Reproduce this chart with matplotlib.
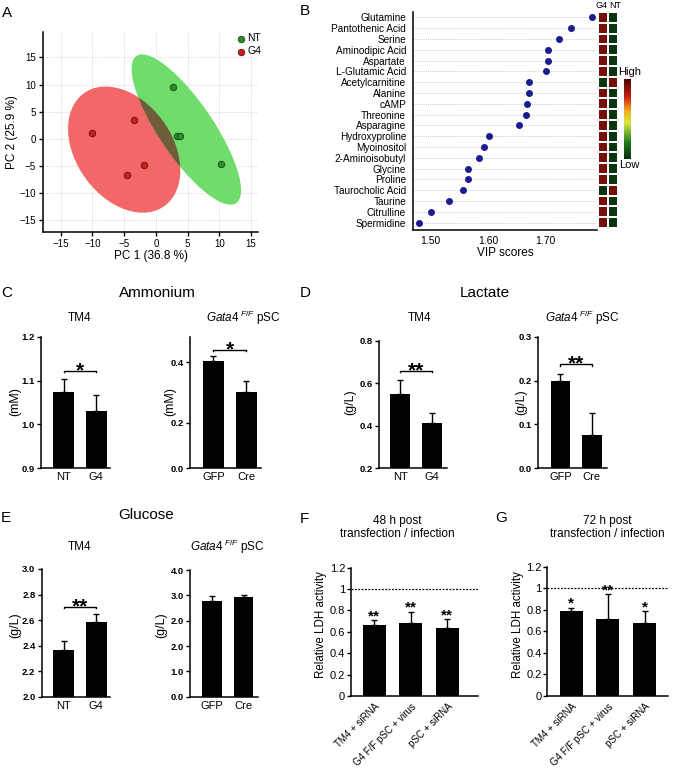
import numpy as np
import matplotlib
matplotlib.use('Agg')
import matplotlib.pyplot as plt
from matplotlib.patches import Ellipse
from matplotlib.colors import LinearSegmentedColormap

plt.rcParams['font.family'] = ['Liberation Sans', 'DejaVu Sans']
plt.rcParams['mathtext.fontset'] = 'custom'
plt.rcParams['mathtext.it'] = 'Liberation Sans:italic'
plt.rcParams['mathtext.rm'] = 'Liberation Sans'

W, H = 673, 776

# ---- A: PCA scores
nt_pc1 = [2.7, 3.3, 3.8, 10.2]
nt_pc2 = [9.6, 0.5, 0.6, -4.7]
g4_pc1 = [-10.1, -3.4, -1.9, -4.5]
g4_pc2 = [1.0, 3.5, -4.9, -6.6]

# ---- B: VIP scores
metabolites = ['Glutamine', 'Pantothenic Acid', 'Serine', 'Aminodipic Acid', 'Aspartate',
               'L-Glutamic Acid', 'Acetylcarnitine', 'Alanine', 'cAMP', 'Threonine',
               'Asparagine', 'Hydroxyproline', 'Myoinositol', '2-Aminoisobutyl', 'Glycine',
               'Proline', 'Taurocholic Acid', 'Taurine', 'Citrulline', 'Spermidine']
vip = [1.783, 1.745, 1.725, 1.706, 1.705, 1.702, 1.672, 1.672, 1.668, 1.667,
       1.655, 1.602, 1.593, 1.584, 1.566, 1.566, 1.557, 1.532, 1.501, 1.480]
heat_g4 = [1, 1, 1, 1, 1, 1, 0, 1, 1, 1, 1, 1, 1, 1, 1, 1, 0, 1, 1, 1]
heat_nt = [0, 0, 0, 0, 0, 0, 1, 0, 0, 0, 0, 0, 0, 0, 0, 0, 1, 0, 0, 0]

# ---- C-E: bar values
tm4_groups = ['NT', 'G4']
psc_groups = ['GFP', 'Cre']
amm_tm4 = [1.075, 1.030]
amm_tm4_err = [0.028, 0.038]
amm_psc = [0.404, 0.300]
amm_psc_err = [0.018, 0.037]
lac_tm4 = [0.549, 0.413]
lac_tm4_err = [0.066, 0.045]
lac_psc = [0.200, 0.077]
lac_psc_err = [0.015, 0.048]
glu_tm4 = [2.366, 2.585]
glu_tm4_err = [0.073, 0.063]
glu_psc = [3.76, 3.95]        # on the axis as printed (labels 0.0,1.0,2.0,2.0,3.0,4.0)
glu_psc_err = [0.23, 0.08]

# ---- F-G: LDH activity
ldh_groups = ['TM4 + siRNA', 'G4 F/F pSC + virus', 'pSC + siRNA']
ldh_48 = [0.667, 0.686, 0.633]
ldh_48_err = [0.041, 0.103, 0.084]
ldh_48_sig = ['**', '**', '**']
ldh_72 = [0.789, 0.712, 0.675]
ldh_72_err = [0.031, 0.232, 0.114]
ldh_72_sig = ['*', '**', '*']

fig = plt.figure(figsize=(W / 100, H / 100), dpi=100)


def px_axes(x0, y0, x1, y1):
    return fig.add_axes([x0 / W, 1 - y1 / H, (x1 - x0) / W, (y1 - y0) / H])


def ftext(x, y, s, **kw):
    kw.setdefault('ha', 'center')
    kw.setdefault('va', 'center')
    fig.text(x / W, 1 - y / H, s, **kw)


def style(ax, lw=1.1):
    for s in ['top', 'right']:
        ax.spines[s].set_visible(False)
    for s in ['left', 'bottom']:
        ax.spines[s].set_linewidth(lw)


# ================= A =================
ax = px_axes(43, 32, 258, 232)
style(ax)
ax.set_xlim(-17.8, 16.1)
ax.set_ylim(-17.2, 19.7)
ax.set_xticks([-15, -10, -5, 0, 5, 10, 15])
ax.set_yticks([-15, -10, -5, 0, 5, 10, 15])
ax.grid(True, ls=(0, (1, 1.5)), color='#cccccc', lw=0.6)
ax.set_axisbelow(True)
ax.tick_params(labelsize=7, length=3, width=1, pad=2)
red_e = Ellipse((-5, -2), 24.6, 15.8, angle=-65, facecolor='#f26868', edgecolor='none', zorder=1)
green_e = Ellipse((4.8, 1.7), 31.4, 9.0, angle=-60.7, facecolor='#70dc6c', edgecolor='none', zorder=1)
ax.add_patch(red_e)
ax.add_patch(green_e)
over = Ellipse((-5, -2), 24.6, 15.8, angle=-65, facecolor='#6e5c3a', edgecolor='none', zorder=1.5)
ax.add_patch(over)
over.set_clip_path(green_e)
ax.scatter(nt_pc1, nt_pc2, s=22, color='#2a8c2a', edgecolors='#184818', linewidths=0.6, zorder=3, label='NT')
ax.scatter(g4_pc1, g4_pc2, s=22, color='#d41c1c', edgecolors='#5a1010', linewidths=0.6, zorder=3, label='G4')
ax.legend(loc='upper right', bbox_to_anchor=(1.05, 1.03), frameon=False, fontsize=7.5,
          handletextpad=0.1, borderpad=0.2, labelspacing=0.3, handlelength=1.0)
ax.set_xlabel('PC 1 (36.8 %)', fontsize=8.5, labelpad=1)
ax.set_ylabel('PC 2 (25.9 %)', fontsize=8.5, labelpad=1)

# ================= B =================
ax = px_axes(413, 12, 597, 230)
style(ax)
yy = np.arange(len(metabolites))
ax.hlines(yy, 1.469, 1.791, colors='#bbbbbb', linestyles=(0, (1, 1.5)), lw=0.6, zorder=1)
ax.scatter(vip, yy, s=16, color='#1c1c8e', zorder=3)
ax.set_xlim(1.469, 1.791)
ax.set_ylim(19.68, -0.49)
ax.set_yticks(yy)
ax.set_yticklabels(metabolites, fontsize=7.2)
ax.tick_params(axis='y', length=0, pad=5)
ax.set_xticks([1.5, 1.6, 1.7])
ax.set_xticklabels(['1.50', '1.60', '1.70'], fontsize=7.5)
ax.tick_params(axis='x', length=0, pad=4)
ax.set_xlabel('VIP scores', fontsize=8.5, labelpad=1)

cmap = LinearSegmentedColormap.from_list('hl', [(0, '#0c2e10'), (0.2, '#1c7a1c'), (0.45, '#d8e640'),
                                                (0.6, '#f0b020'), (0.78, '#c82010'), (1, '#4a0606')])
axh = px_axes(598, 12, 618, 230)
vals = np.column_stack([heat_g4, heat_nt]) * 0.9 + 0.02
axh.pcolormesh(np.arange(3), np.arange(len(metabolites) + 1) - 0.5, vals, cmap=cmap, vmin=0, vmax=1,
               edgecolors='white', linewidth=1.3)
axh.set_ylim(19.68, -0.49)
axh.set_xlim(0, 2)
axh.axis('off')
ftext(607, 5, 'G4', fontsize=6.5, ha='right')
ftext(609, 5, 'NT', fontsize=6.5, ha='left')

axc = px_axes(624, 79, 631, 159)
axc.imshow(np.linspace(0, 1, 100)[:, None], cmap=cmap, aspect='auto', origin='lower')
axc.axis('off')
ftext(630, 72, 'High', fontsize=8)
ftext(629, 165, 'Low', fontsize=8)


# ================= bar panels =================
def bar_panel(box, vals, errs, labels, xlim, ylim, yticks, yticklabels, width=0.63):
    ax = px_axes(*box)
    style(ax)
    x = np.arange(len(vals))
    ax.bar(x, vals, width=width, color='black', zorder=2)
    ax.errorbar(x, vals, yerr=[np.zeros(len(vals)), errs], fmt='none', ecolor='black',
                elinewidth=1.0, capsize=2.5, capthick=1.0, zorder=3)
    ax.set_xlim(*xlim)
    ax.set_ylim(*ylim)
    ax.set_xticks(x)
    ax.set_xticklabels(labels, fontsize=8)
    ax.tick_params(axis='x', length=0, pad=3)
    ax.set_yticks(yticks)
    ax.set_yticklabels(yticklabels, fontsize=6.8, fontweight='bold')
    ax.tick_params(axis='y', length=3, width=1, pad=1.5)
    return ax


def bracket(ax, y, h, text):
    ax.plot([0, 0, 1, 1], [y - h, y, y, y - h], color='black', lw=1, clip_on=False)
    ax.annotate(text, xy=(0.5, y), xytext=(0, -4), textcoords='offset points', ha='center',
                va='baseline', fontsize=15, fontweight='bold', annotation_clip=False)


# C
ax = bar_panel((40.7, 337, 110, 468), amm_tm4, amm_tm4_err, tm4_groups, (-0.705, 1.42),
               (0.9, 1.2), [0.9, 1.0, 1.1, 1.2], ['0.9', '1.0', '1.1', '1.2'])
bracket(ax, 1.123, 0.004, '*')
ax = bar_panel((190, 337, 261, 468), amm_psc, amm_psc_err, psc_groups, (-0.71, 1.44),
               (0.0495, 0.4835), [0.0495, 0.2, 0.4], ['0.0', '0.2', '0.4'])
bracket(ax, 0.442, 0.005, '*')
# D
ax = bar_panel((379.3, 340.7, 446.7, 468.3), lac_tm4, lac_tm4_err, tm4_groups, (-0.66, 1.47),
               (0.2, 0.8), [0.2, 0.4, 0.6, 0.8], ['0.2', '0.4', '0.6', '0.8'])
bracket(ax, 0.659, 0.008, '**')
ax = bar_panel((537.7, 336.7, 606.7, 468.3), lac_psc, lac_psc_err, psc_groups, (-0.73, 1.48),
               (0.0, 0.3), [0.0, 0.1, 0.2, 0.3], ['0.0', '0.1', '0.2', '0.3'])
bracket(ax, 0.238, 0.004, '**')
# E
ax = bar_panel((41.7, 569, 110, 696.7), glu_tm4, glu_tm4_err, tm4_groups, (-0.675, 1.42),
               (2.0, 3.0), [2.0, 2.2, 2.4, 2.6, 2.8, 3.0], ['2.0', '2.2', '2.4', '2.6', '2.8', '3.0'])
bracket(ax, 2.705, 0.012, '**')
ax = bar_panel((190, 570, 258, 696.7), glu_psc, glu_psc_err, psc_groups, (-0.71, 1.46),
               (0, 5), [0, 1, 2, 3, 4, 5], ['0.0', '1.0', '2.0', '2.0', '3.0', '4.0'])


# F, G
def ldh_panel(box, vals, errs, sig, xlim):
    ax = px_axes(*box)
    style(ax)
    x = np.arange(len(vals))
    ax.bar(x, vals, width=0.63, color='black', zorder=2)
    ax.errorbar(x, vals, yerr=[np.zeros(len(vals)), errs], fmt='none', ecolor='black',
                elinewidth=1.0, capsize=2.5, capthick=1.0, zorder=3)
    ax.axhline(1, color='black', ls=(0, (1.5, 1.2)), lw=0.9)
    for xi, v, e, s in zip(x, vals, errs, sig):
        ax.annotate(s, xy=(xi, v + e), xytext=(0, 0), textcoords='offset points', ha='center',
                    va='baseline', fontsize=11, fontweight='bold')
    ax.set_xlim(*xlim)
    ax.set_ylim(0, 1.2)
    ax.set_yticks([0, 0.2, 0.4, 0.6, 0.8, 1.0, 1.2])
    ax.set_yticklabels(['0', '0.2', '0.4', '0.6', '0.8', '1', '1.2'], fontsize=8)
    ax.tick_params(axis='y', length=3, width=1, pad=1)
    ax.set_xticks(x)
    ax.set_xticklabels(ldh_groups, fontsize=7, rotation=45, ha='right', rotation_mode='anchor')
    ax.tick_params(axis='x', length=0, pad=4)
    return ax


ldh_panel((350.7, 567.7, 478.3, 696), ldh_48, ldh_48_err, ldh_48_sig, (-0.643, 2.85))
ldh_panel((547.3, 566.7, 668, 696), ldh_72, ldh_72_err, ldh_72_sig, (-0.652, 2.64))

# ================= text =================
for lab, x, y in [('A', 7, 13), ('B', 305, 11), ('C', 7, 293), ('D', 305, 293),
                  ('E', 6, 518), ('F', 304, 519), ('G', 501, 518)]:
    ftext(x, y, lab, fontsize=11)

ftext(157, 293, 'Ammonium', fontsize=11)
ftext(485, 293, 'Lactate', fontsize=11)
ftext(146, 515, 'Glucose', fontsize=11)

gata = r'$\mathit{Gata4}^{\ \mathit{F/F}}$ pSC'
ftext(80, 318, 'TM4', fontsize=8.5)
ftext(243, 318, gata, fontsize=8.5)
ftext(420, 318, 'TM4', fontsize=8.5)
ftext(582, 318, gata, fontsize=8.5)
ftext(80, 547, 'TM4', fontsize=8.5)
ftext(227, 547, gata, fontsize=8.5)
ftext(397, 521, '48 h post', fontsize=8.5)
ftext(397, 534, 'transfection / infection', fontsize=8.5)
ftext(607, 521, '72 h post', fontsize=8.5)
ftext(607, 534, 'transfection / infection', fontsize=8.5)

ftext(15, 402, '(mM)', fontsize=9, rotation=90)
ftext(170, 402, '(mM)', fontsize=9, rotation=90)
ftext(350, 402, '(g/L)', fontsize=9, rotation=90)
ftext(521, 402, '(g/L)', fontsize=9, rotation=90)
ftext(15, 625, '(g/L)', fontsize=9, rotation=90)
ftext(161, 625, '(g/L)', fontsize=9, rotation=90)
ftext(321, 625, 'Relative LDH activity', fontsize=8.3, rotation=90)
ftext(518, 625, 'Relative LDH activity', fontsize=8.3, rotation=90)

fig.savefig('out.png', dpi=100)
